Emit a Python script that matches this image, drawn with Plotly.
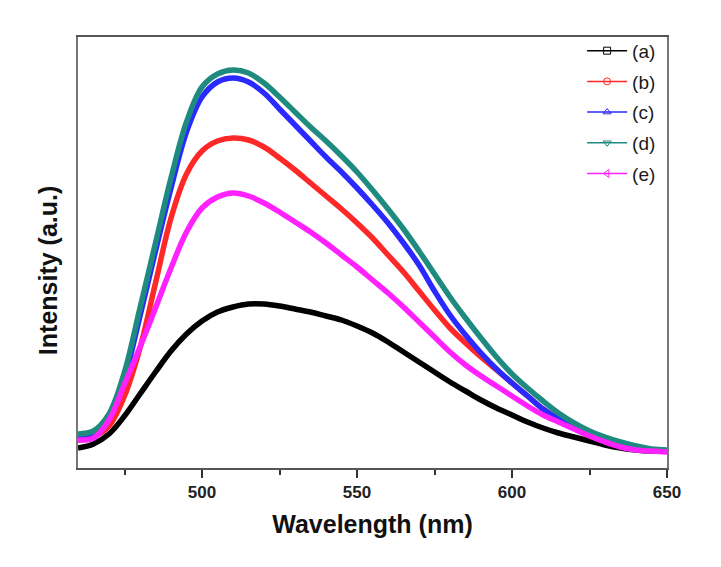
import plotly.graph_objects as go

# Wavelength grid (nm)
wavelength = [460, 465, 470, 475, 480, 485, 490, 495, 500, 505, 510, 515, 520,
              525, 530, 535, 540, 545, 550, 555, 560, 565, 570, 575, 580, 585,
              590, 595, 600, 605, 610, 615, 620, 625, 630, 635, 640, 645, 650]

# Intensities (a.u.)
int_a = [20, 24, 34, 52, 74, 96, 117, 134, 147, 156, 161, 164, 164,
         162, 159, 156, 152, 148, 142, 135, 126, 116, 106, 96, 86, 77,
         68, 60, 53, 46, 40, 35, 31, 27, 23, 20, 18, 17, 17]
int_b = [28, 31, 42, 72, 120, 185, 250, 294, 317, 327, 330, 328, 321,
         310, 298, 285, 272, 259, 245, 230, 213, 196, 177, 158, 140, 125,
         111, 98, 85, 72, 59, 49, 41, 34, 28, 23, 20, 18, 17]
int_c = [32, 35, 50, 90, 152, 217, 280, 336, 371, 386, 390, 386, 375,
         359, 343, 327, 311, 296, 280, 263, 245, 225, 203, 177, 153, 133,
         115, 99, 85, 72, 59, 49, 41, 34, 28, 23, 20, 18, 17]
int_d = [34, 37, 54, 96, 160, 225, 290, 346, 381, 394, 398, 395, 385,
         371, 356, 341, 327, 312, 296, 278, 259, 239, 217, 194, 171, 150,
         130, 111, 94, 80, 67, 55, 45, 37, 31, 26, 22, 19, 18]
int_e = [28, 30, 48, 84, 121, 160, 200, 236, 260, 271, 275, 272, 265,
         256, 246, 236, 225, 213, 201, 188, 175, 161, 146, 131, 116, 103,
         92, 82, 72, 62, 53, 46, 39, 32, 26, 21, 18, 17, 16]

labels = ["(a)", "(b)", "(c)", "(d)", "(e)"]
series = [int_a, int_b, int_c, int_d, int_e]
colors = ["#000000", "#ff2828", "#2a2aff", "#1f8a80", "#ff22ff"]
symbols = ["square-open", "circle-open", "triangle-up-open",
           "triangle-down-open", "triangle-left-open"]

x_ticks = [500, 550, 600, 650]

FONT = "Arial, Liberation Sans, Helvetica, sans-serif"

fig = go.Figure()

for lab, ys, col in zip(labels, series, colors):
    fig.add_trace(go.Scatter(
        x=wavelength, y=ys, mode="lines",
        line=dict(color=col, width=5.5, shape="spline", smoothing=1.0),
        showlegend=False, hoverinfo="skip"))

# Legend entries (thin line with hollow marker, as in the reference)
for lab, col, sym in zip(labels, colors, symbols):
    fig.add_trace(go.Scatter(
        x=[None], y=[None], mode="lines+markers", name=lab,
        legendgroup=lab,
        line=dict(color=col, width=1.5),
        marker=dict(symbol=sym, size=7, color=col, line=dict(width=1))))

fig.update_layout(
    width=713, height=559,
    margin=dict(l=70, r=54, t=29, b=99),
    paper_bgcolor="white", plot_bgcolor="white",
    font=dict(family=FONT, color="#1a1a1a"),
    legend=dict(x=0.99, y=1.012, xanchor="right", yanchor="top",
                bgcolor="rgba(0,0,0,0)", font=dict(size=19, family=FONT),
                traceorder="grouped", tracegroupgap=3, itemwidth=40),
    xaxis=dict(
        range=[460, 650], tickvals=x_ticks,
        ticks="outside", ticklen=8, tickwidth=1.5, tickcolor="#333",
        minor=dict(dtick=25, tick0=475, ticks="outside", ticklen=5,
                   tickwidth=1.5, tickcolor="#333"),
        showline=True, mirror=True, linecolor="#555", linewidth=1.5,
        showgrid=False, zeroline=False,
        tickfont=dict(size=17, family=FONT, color="#222", weight="bold"),
        title=dict(text="<b>Wavelength (nm)</b>", standoff=14,
                   font=dict(size=25, family=FONT, color="#111"))),
    yaxis=dict(
        range=[0, 431], showticklabels=False, ticks="",
        showline=True, mirror=True, linecolor="#777", linewidth=1.5,
        showgrid=False, zeroline=False),
)

fig.add_annotation(
    text="<b>Intensity (a.u.)</b>", textangle=-90,
    xref="paper", yref="paper", x=-0.051, y=0.459,
    xanchor="center", yanchor="middle", showarrow=False,
    font=dict(size=25, family=FONT, color="#111"))

fig.write_html("out.html")
